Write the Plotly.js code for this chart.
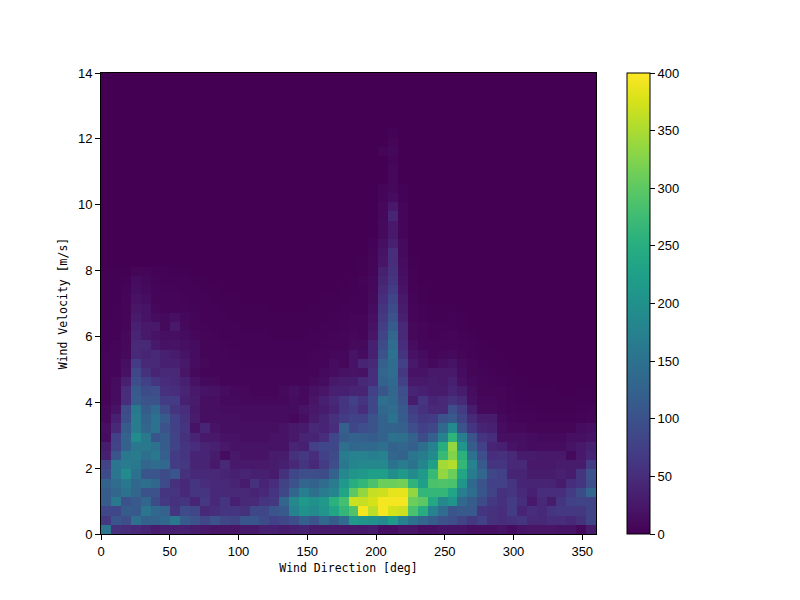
<!DOCTYPE html>
<html><head><meta charset="utf-8">
<script src="https://cdn.plot.ly/plotly-3.0.1.min.js"></script>
<style>html,body{margin:0;padding:0;background:#fff}#c{width:800px;height:600px}</style>
</head><body><div id="c"></div>
<script>
const xTicks=[0,50,100,150,200,250,300,350];
const yTicks=[0,2,4,6,8,10,12,14];
const cTicks=[0,50,100,150,200,250,300,350,400];
const r0=[155,55,50,45,40,30,35,35,35,30,25,22,22,22,25,25,35,35,30,35,38,30,28,28,28,25,25,30,15,15,22,22,15,15,20,20,20,15,15,15,20,12,20,22,22,22,20,20,10,30];
const r1=[65,105,95,145,125,125,135,160,115,100,85,100,85,80,105,105,90,75,85,95,120,105,135,115,140,215,205,200,190,220,175,150,130,115,100,95,80,65,75,55,50,55,60,45,45,50,50,45,55,80];
const r2=[85,85,115,110,155,135,125,60,90,85,45,50,60,60,55,85,85,105,110,175,200,190,205,235,265,290,395,360,395,375,370,285,250,175,140,105,110,110,60,55,50,70,40,50,45,60,65,65,65,80];
const r3=[115,160,100,110,130,90,65,55,60,40,65,45,60,35,45,45,60,65,130,185,215,200,215,255,280,370,365,375,395,395,395,310,300,240,185,205,135,115,90,65,55,70,50,25,45,30,60,75,80,80];
const r4=[115,130,150,130,100,100,60,60,45,60,60,45,45,45,45,40,45,60,85,130,170,145,165,180,235,300,335,365,370,385,385,335,265,265,265,235,170,140,105,80,55,60,45,35,50,50,50,70,90,130];
const r5=[125,140,160,135,145,130,90,55,45,60,50,45,45,40,30,55,40,50,80,100,130,125,140,165,215,250,265,285,310,310,315,260,225,285,290,285,205,135,100,75,75,60,40,40,40,40,30,50,60,95];
const r6=[90,155,190,150,105,105,90,105,55,45,45,45,40,35,40,35,35,30,55,85,95,95,90,125,185,205,215,225,225,195,215,190,215,270,335,310,235,165,130,85,75,40,40,30,30,30,35,30,60,100];
const r7=[80,155,165,160,130,140,135,70,65,40,40,25,45,25,25,25,25,30,35,45,60,45,70,95,160,180,185,185,185,150,165,150,180,225,345,355,265,175,110,60,60,45,45,25,25,25,30,30,30,70];
const r8=[35,105,160,165,145,160,120,70,60,40,40,30,12,25,20,20,20,30,30,55,65,50,75,90,165,175,175,170,175,130,125,155,165,190,270,325,255,150,95,50,55,45,30,30,25,25,25,10,25,40];
const r9=[30,80,125,160,160,150,115,80,60,50,40,35,25,20,20,20,20,20,20,40,35,75,85,85,145,130,135,135,145,125,130,120,145,175,250,335,205,115,75,40,35,20,15,12,12,12,12,20,25,35];
const r10=[12,75,125,190,160,105,115,80,55,40,25,25,20,20,15,15,15,20,20,25,40,40,50,85,115,125,120,115,125,150,145,125,90,120,175,260,170,100,60,50,15,15,15,12,10,10,10,15,15,20];
const r11=[15,45,115,165,130,150,100,75,60,20,40,20,15,15,15,15,15,15,20,25,30,45,40,50,120,85,95,100,125,125,120,95,75,85,135,190,100,60,40,35,12,8,8,5,5,5,5,5,12,15];
const r12=[8,35,95,165,125,150,115,75,55,30,15,15,15,15,12,12,12,12,12,8,15,30,40,55,70,80,75,100,125,150,115,80,65,70,100,110,80,45,30,30,10,6,3,3,2,2,2,2,3,5];
const r13=[8,20,90,160,115,135,90,60,50,25,15,15,12,12,12,12,12,12,12,12,20,25,30,40,60,70,50,85,135,140,110,70,55,45,45,95,70,30,10,10,5,3,2,2,1,1,1,1,2,3];
const r14=[6,12,50,115,100,100,70,70,35,30,15,15,10,10,8,8,8,8,8,12,10,22,35,45,60,75,60,85,145,135,100,30,60,40,45,55,45,15,8,8,5,2,1,1,1,1,1,1,1,1];
const r15=[5,12,50,110,90,95,55,50,40,25,20,18,12,8,8,6,6,6,10,15,10,18,22,35,35,40,40,75,105,130,95,40,35,30,30,40,30,12,5,5,5,2,1,1,1,1,0,0,1,1];
const r16=[4,12,35,95,75,60,50,45,35,18,10,10,6,6,5,4,4,4,4,4,4,10,12,25,30,30,45,50,125,135,75,25,25,30,25,35,15,8,4,3,2,1,1,0,0,0,0,0,0,0];
const r17=[4,6,18,85,55,40,45,45,22,10,6,6,5,4,4,4,4,4,4,4,4,6,10,12,18,20,18,50,130,140,65,20,20,25,25,25,12,5,3,2,1,1,0,0,0,0,0,0,0,0];
const r18=[4,6,15,70,45,45,35,35,25,12,8,6,5,4,3,3,3,3,3,3,3,4,6,12,8,20,40,45,120,140,75,25,15,10,15,20,10,4,2,1,1,0,0,0,0,0,0,0,0,0];
const r19=[3,4,10,45,40,45,35,30,20,12,6,5,4,3,2,2,2,2,2,2,2,3,5,8,8,20,12,35,100,150,60,18,12,6,8,10,5,2,1,1,0,0,0,0,0,0,0,0,0,0];
const r20=[2,4,8,45,45,25,18,20,15,12,5,4,3,2,2,2,2,2,2,2,2,2,3,5,6,10,10,35,90,140,50,12,4,4,5,6,3,2,1,0,0,0,0,0,0,0,0,0,0,0];
const r21=[2,2,8,40,25,20,15,15,12,8,4,3,2,2,2,2,2,1,1,1,1,2,2,3,5,8,6,22,80,130,45,8,4,2,3,4,2,1,0,0,0,0,0,0,0,0,0,0,0,0];
const r22=[2,2,6,35,25,25,10,25,10,5,3,2,2,2,1,1,1,1,1,1,1,1,2,2,3,6,4,18,72,115,45,8,4,2,2,2,1,0,0,0,0,0,0,0,0,0,0,0,0,0];
const r23=[1,2,6,28,20,12,10,15,8,4,2,2,2,1,1,1,1,1,1,1,1,1,1,2,2,4,4,15,65,100,35,4,2,1,1,2,1,0,0,0,0,0,0,0,0,0,0,0,0,0];
const r24=[1,2,5,22,20,8,6,6,5,3,2,2,1,1,1,1,1,0,0,0,0,1,1,1,2,2,2,12,60,90,30,4,2,1,1,1,0,0,0,0,0,0,0,0,0,0,0,0,0,0];
const r25=[1,1,4,18,14,6,5,4,3,2,2,1,1,1,0,0,0,0,0,0,0,0,1,1,1,2,2,10,52,82,25,3,1,0,0,0,0,0,0,0,0,0,0,0,0,0,0,0,0,0];
const r26=[1,1,3,14,10,4,3,3,2,2,1,1,0,0,0,0,0,0,0,0,0,0,0,0,1,1,2,8,45,70,20,2,1,0,0,0,0,0,0,0,0,0,0,0,0,0,0,0,0,0];
const r27=[1,1,2,12,8,3,2,2,2,1,1,0,0,0,0,0,0,0,0,0,0,0,0,0,0,1,3,8,40,60,16,2,0,0,0,0,0,0,0,0,0,0,0,0,0,0,0,0,0,0];
const r28=[1,1,1,5,4,2,2,1,1,0,0,0,0,0,0,0,0,0,0,0,0,0,0,0,0,0,1,6,35,55,14,2,0,0,0,0,0,0,0,0,0,0,0,0,0,0,0,0,0,0];
const r29=[0,0,0,0,0,0,0,0,0,0,0,0,0,0,0,0,0,0,0,0,0,0,0,0,0,0,1,6,22,50,12,1,0,0,0,0,0,0,0,0,0,0,0,0,0,0,0,0,0,0];
const r30=[0,0,0,0,0,0,0,0,0,0,0,0,0,0,0,0,0,0,0,0,0,0,0,0,0,0,0,3,20,50,10,0,0,0,0,0,0,0,0,0,0,0,0,0,0,0,0,0,0,0];
const r31=[0,0,0,0,0,0,0,0,0,0,0,0,0,0,0,0,0,0,0,0,0,0,0,0,0,0,0,2,15,35,10,0,0,0,0,0,0,0,0,0,0,0,0,0,0,0,0,0,0,0];
const r32=[0,0,0,0,0,0,0,0,0,0,0,0,0,0,0,0,0,0,0,0,0,0,0,0,0,0,0,0,10,25,4,0,0,0,0,0,0,0,0,0,0,0,0,0,0,0,0,0,0,0];
const r33=[0,0,0,0,0,0,0,0,0,0,0,0,0,0,0,0,0,0,0,0,0,0,0,0,0,0,0,0,10,25,4,0,0,0,0,0,0,0,0,0,0,0,0,0,0,0,0,0,0,0];
const r34=[0,0,0,0,0,0,0,0,0,0,0,0,0,0,0,0,0,0,0,0,0,0,0,0,0,0,0,0,8,40,4,0,0,0,0,0,0,0,0,0,0,0,0,0,0,0,0,0,0,0];
const r35=[0,0,0,0,0,0,0,0,0,0,0,0,0,0,0,0,0,0,0,0,0,0,0,0,0,0,0,0,8,25,4,0,0,0,0,0,0,0,0,0,0,0,0,0,0,0,0,0,0,0];
const r36=[0,0,0,0,0,0,0,0,0,0,0,0,0,0,0,0,0,0,0,0,0,0,0,0,0,0,0,0,4,12,2,0,0,0,0,0,0,0,0,0,0,0,0,0,0,0,0,0,0,0];
const r37=[0,0,0,0,0,0,0,0,0,0,0,0,0,0,0,0,0,0,0,0,0,0,0,0,0,0,0,0,4,8,2,0,0,0,0,0,0,0,0,0,0,0,0,0,0,0,0,0,0,0];
const r38=[0,0,0,0,0,0,0,0,0,0,0,0,0,0,0,0,0,0,0,0,0,0,0,0,0,0,0,0,0,8,0,0,0,0,0,0,0,0,0,0,0,0,0,0,0,0,0,0,0,0];
const r39=[0,0,0,0,0,0,0,0,0,0,0,0,0,0,0,0,0,0,0,0,0,0,0,0,0,0,0,0,0,8,0,0,0,0,0,0,0,0,0,0,0,0,0,0,0,0,0,0,0,0];
const r40=[0,0,0,0,0,0,0,0,0,0,0,0,0,0,0,0,0,0,0,0,0,0,0,0,0,0,0,0,0,6,0,0,0,0,0,0,0,0,0,0,0,0,0,0,0,0,0,0,0,0];
const r41=[0,0,0,0,0,0,0,0,0,0,0,0,0,0,0,0,0,0,0,0,0,0,0,0,0,0,0,0,6,8,0,0,0,0,0,0,0,0,0,0,0,0,0,0,0,0,0,0,0,0];
const r42=[0,0,0,0,0,0,0,0,0,0,0,0,0,0,0,0,0,0,0,0,0,0,0,0,0,0,0,0,0,5,0,0,0,0,0,0,0,0,0,0,0,0,0,0,0,0,0,0,0,0];
const r43=[0,0,0,0,0,0,0,0,0,0,0,0,0,0,0,0,0,0,0,0,0,0,0,0,0,0,0,0,0,2,0,0,0,0,0,0,0,0,0,0,0,0,0,0,0,0,0,0,0,0];
const rEmpty=[0,0,0,0,0,0,0,0,0,0,0,0,0,0,0,0,0,0,0,0,0,0,0,0,0,0,0,0,0,0,0,0,0,0,0,0,0,0,0,0,0,0,0,0,0,0,0,0,0,0];
const counts=[r0,r1,r2,r3,r4,r5,r6,r7,r8,r9,r10,r11,r12,r13,r14,r15,r16,r17,r18,r19,r20,r21,r22,r23,r24,r25,r26,r27,r28,r29,r30,r31,r32,r33,r34,r35,r36,r37,r38,r39,r40,r41,r42,r43,rEmpty,rEmpty,rEmpty,rEmpty,rEmpty,rEmpty];
const tickFont={family:'Liberation Sans, Arial, sans-serif',size:13,color:'#000'};
const titleFont={family:'DejaVu Sans Mono, monospace',size:11.5,color:'#000'};
const ax={showgrid:false,zeroline:false,showline:true,linecolor:'#000',linewidth:1,mirror:true,ticks:'outside',ticklen:5,tickwidth:1,tickcolor:'#000',tickfont:tickFont,tickmode:'array',fixedrange:true};
Plotly.newPlot('c',[{type:'heatmap',z:counts,x0:3.6,dx:7.2,y0:0.14,dy:0.28,colorscale:'Viridis',zmin:0,zmax:400,zsmooth:false,xgap:0,ygap:0,
 colorbar:{x:1.0625,xanchor:'left',xpad:0,y:0.5,yanchor:'middle',ypad:0,len:1,lenmode:'fraction',thickness:23,thicknessmode:'pixels',outlinecolor:'#000',outlinewidth:1,ticks:'outside',ticklen:5,tickwidth:1,tickcolor:'#000',tickfont:tickFont,tickmode:'array',tickvals:cTicks,ticktext:cTicks.map(String)}}],
 {width:800,height:600,margin:{l:100.5,r:203.5,t:72.5,b:65.5,pad:0},paper_bgcolor:'#fff',plot_bgcolor:'#fff',
  xaxis:Object.assign({},ax,{range:[0,360],tickvals:xTicks,ticktext:xTicks.map(String),title:{text:'Wind Direction [deg]',font:titleFont,standoff:6}}),
  yaxis:Object.assign({},ax,{range:[0,14],tickvals:yTicks,ticktext:yTicks.map(String),title:{text:'Wind Velocity [m/s]',font:titleFont,standoff:7}})},
 {displayModeBar:false,staticPlot:true});
</script></body></html>
